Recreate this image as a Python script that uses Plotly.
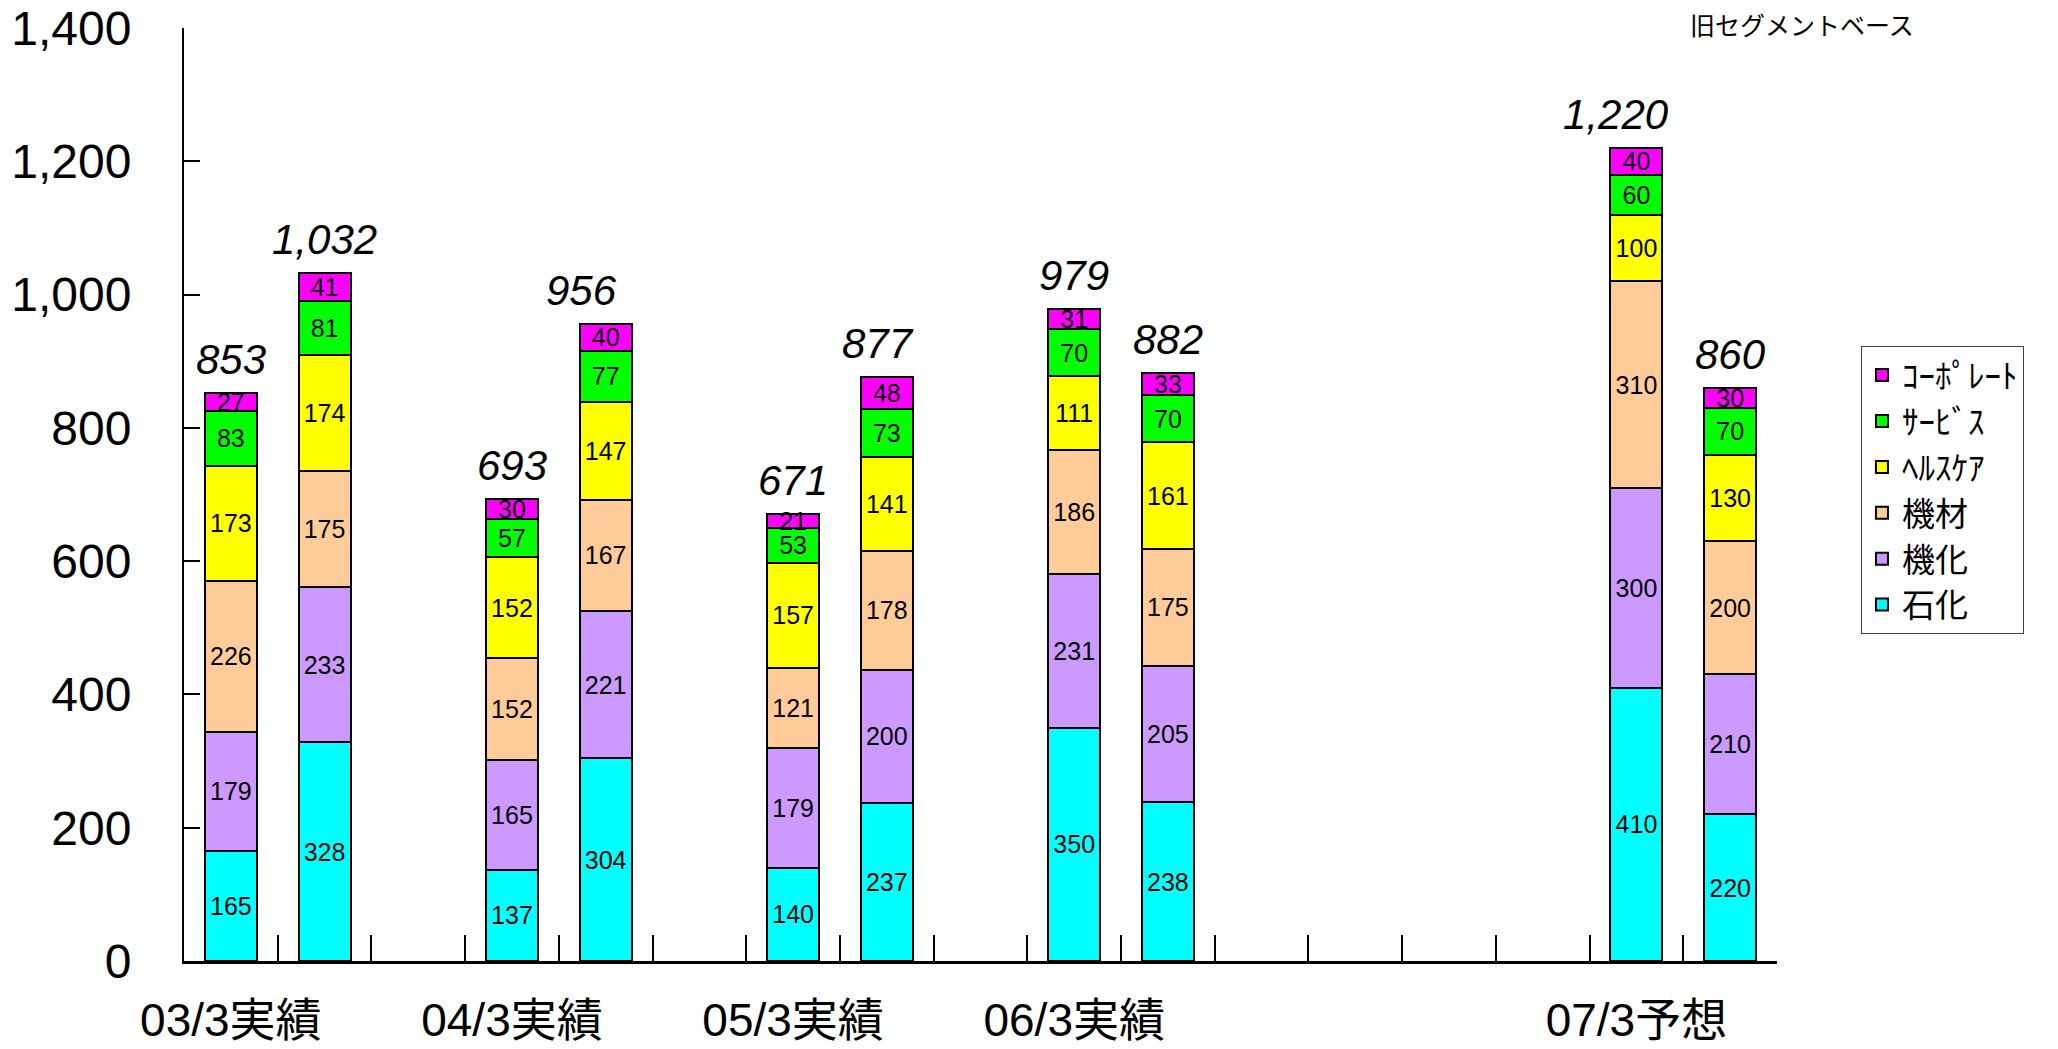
import plotly.graph_objects as go

# ---- data ----
slots = ["03/3-1", "03/3-2", "g1", "04/3-1", "04/3-2", "g2", "05/3-1", "05/3-2", "g3",
         "06/3-1", "06/3-2", "g4", "g5", "g6", "g7", "07/3-1", "07/3-2"]
group_labels = {"03/3-1": "03/3実績", "04/3-1": "04/3実績", "05/3-1": "05/3実績",
                "06/3-1": "06/3実績", "07/3-1": "07/3予想"}
bar_slots = ["03/3-1", "03/3-2", "04/3-1", "04/3-2", "05/3-1", "05/3-2",
             "06/3-1", "06/3-2", "07/3-1", "07/3-2"]

sekika = [165, 328, 137, 304, 140, 237, 350, 238, 410, 220]
kika = [179, 233, 165, 221, 179, 200, 231, 205, 300, 210]
kizai = [226, 175, 152, 167, 121, 178, 186, 175, 310, 200]
health = [173, 174, 152, 147, 157, 141, 111, 161, 100, 130]
service = [83, 81, 57, 77, 53, 73, 70, 70, 60, 70]
corporate = [27, 41, 30, 40, 21, 48, 31, 33, 40, 30]

series = [
    ("石化", sekika, "#00FFFF"),
    ("機化", kika, "#CC99FF"),
    ("機材", kizai, "#FFCC99"),
    ("ﾍﾙｽｹｱ", health, "#FFFF00"),
    ("ｻｰﾋﾞｽ", service, "#00FF00"),
    ("ｺｰﾎﾟﾚｰﾄ", corporate, "#FF00FF"),
]
totals = [sum(v) for v in zip(sekika, kika, kizai, health, service, corporate)]
total_xshift = {"04/3-2": -24, "05/3-2": -9, "07/3-1": -20}

FONT = "Arial, 'Liberation Sans', 'Noto Sans CJK JP', sans-serif"

fig = go.Figure()
for name, vals, color in series:
    fig.add_trace(go.Bar(
        x=bar_slots, y=vals, name=name,
        marker=dict(color=color, line=dict(color="black", width=2)),
        text=[str(v) for v in vals], textposition="inside",
        insidetextanchor="middle", textangle=0,
        textfont=dict(family=FONT, size=25, color="black"),
        cliponaxis=False,
    ))

annotations = []
for s, t in zip(bar_slots, totals):
    annotations.append(dict(
        x=s, y=t, xref="x", yref="y", text=f"<i>{t:,}</i>", showarrow=False,
        yanchor="bottom", yshift=8, xshift=total_xshift.get(s, 0),
        font=dict(family=FONT, size=42, color="black"),
    ))
annotations.append(dict(
    x=1.0157, y=1.004, xref="paper", yref="paper", text="旧セグメントベース",
    showarrow=False, xanchor="center", yanchor="middle",
    font=dict(family="'Noto Sans CJK JP', sans-serif", size=25, color="black"),
))

fig.update_layout(
    barmode="stack", bargap=0.445,
    width=2058, height=1049,
    margin=dict(l=184, r=281, t=28, b=88, autoexpand=False),
    paper_bgcolor="white", plot_bgcolor="white",
    showlegend=True,
    legend=dict(
        x=1.0527, xanchor="left", y=0.659, yanchor="top",
        traceorder="reversed",
        font=dict(family="'Noto Sans CJK JP', sans-serif", size=33, color="black"),
        bgcolor="white", bordercolor="#404040", borderwidth=1,
        itemwidth=30, tracegroupgap=0,
    ),
    uniformtext=dict(mode="show", minsize=25),
    annotations=annotations,
    font=dict(family=FONT, color="black"),
)

fig.update_xaxes(
    type="category", categoryorder="array", categoryarray=slots,
    range=[-0.5, len(slots) - 0.5],
    tickmode="array", tickvals=slots,
    ticktext=[group_labels.get(s, "") for s in slots],
    tickangle=0,
    tickson="boundaries", ticks="inside", ticklen=26, tickwidth=2, tickcolor="black",
    showline=True, linecolor="black", linewidth=3,
    showgrid=False, zeroline=False,
    tickfont=dict(family=FONT, size=46, color="black"),
    ticklabelstandoff=17, ticklabeloverflow="allow",
)
fig.update_yaxes(
    range=[0, 1400], dtick=200, tick0=0, tickformat=",",
    ticks="inside", ticklen=16, tickwidth=2, tickcolor="black",
    showline=True, linecolor="black", linewidth=2,
    showgrid=False, zeroline=False,
    tickfont=dict(family=FONT, size=48, color="black"),
    ticklabelstandoff=41, ticklabeloverflow="allow",
)

fig.write_html("out.html")
